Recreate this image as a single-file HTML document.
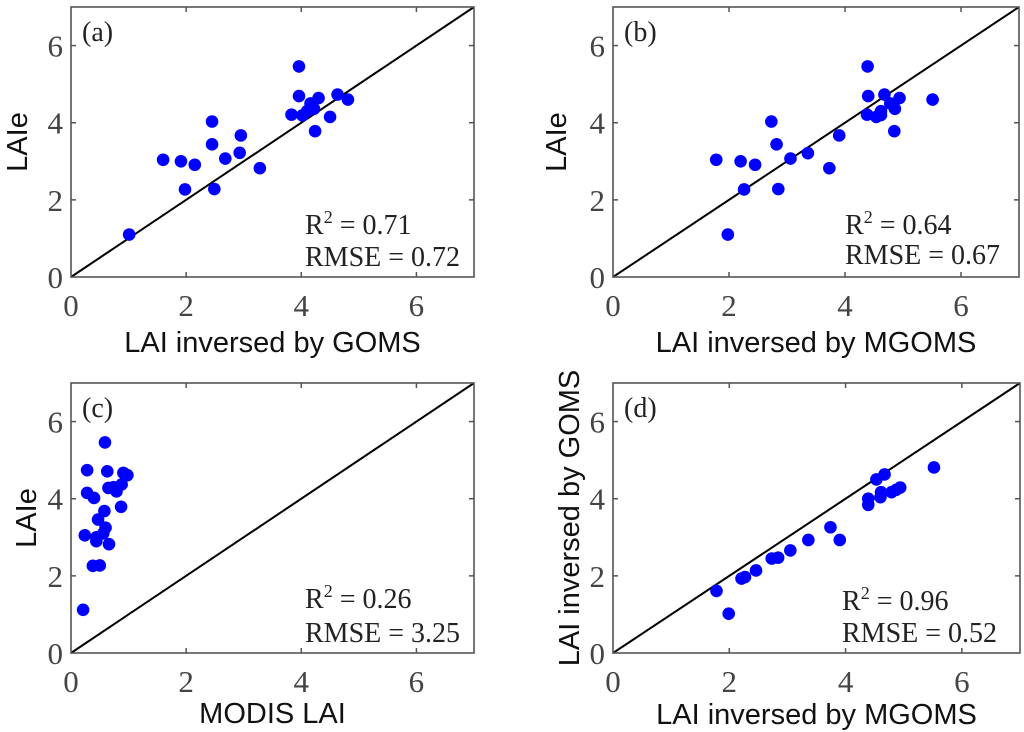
<!DOCTYPE html>
<html><head><meta charset="utf-8"><style>
body{margin:0;background:#fff;width:1024px;height:732px;overflow:hidden}
svg{display:block}
.tk{font-family:"Liberation Serif",serif;font-size:31px;fill:#444}
.al{font-family:"Liberation Sans",sans-serif;font-size:29px;fill:#111}
.an{font-family:"Liberation Serif",serif;font-size:28px;fill:#222}
</style></head><body>
<svg id="fig" width="1024" height="732" viewBox="0 0 1024 732" xmlns="http://www.w3.org/2000/svg"></svg>
<script>
const ticks=[0,2,4,6];
const tickLabels=["0","2","4","6"];
const aX=[1.01,1.60,1.91,2.15,1.98,2.45,2.45,2.49,2.68,2.95,2.93,3.28,3.96,3.96,3.83,4.02,4.16,4.30,4.22,4.24,4.50,4.63,4.81,4.10];
const aY=[1.10,3.04,3.00,2.91,2.27,4.03,3.44,2.28,3.07,3.67,3.22,2.82,5.46,4.69,4.21,4.19,4.50,4.64,4.36,3.78,4.15,4.73,4.60,4.30];
const bX=[1.78,1.98,2.20,2.45,2.26,2.73,2.82,2.85,3.06,3.36,3.90,3.73,4.39,4.40,4.38,4.54,4.62,4.62,4.68,4.78,4.86,4.94,4.85,5.51];
const bY=[3.04,1.10,3.00,2.91,2.27,4.03,3.44,2.28,3.07,3.21,3.67,2.82,5.46,4.69,4.21,4.15,4.30,4.20,4.73,4.50,4.36,4.64,3.78,4.60];
const cX=[0.21,0.28,0.28,0.40,0.24,0.44,0.38,0.50,0.47,0.44,0.58,0.60,0.56,0.66,0.59,0.63,0.65,0.79,0.88,0.87,0.91,0.98,0.74];
const cY=[1.12,4.74,4.15,4.02,3.05,3.00,2.26,2.27,3.46,2.90,3.68,3.25,3.10,2.82,5.46,4.71,4.28,4.19,4.37,3.79,4.67,4.61,4.30];
const dX=[1.78,1.99,2.21,2.27,2.46,2.73,2.84,3.05,3.36,3.74,3.90,4.39,4.39,4.53,4.67,4.60,4.61,4.79,4.87,4.94,5.52];
const dY=[1.61,1.02,1.93,1.97,2.14,2.45,2.47,2.66,2.93,3.26,2.93,4.00,3.84,4.50,4.63,4.04,4.17,4.17,4.23,4.29,4.81];
const panels=[
 {id:"a",L:71,R:474,T:7,B:277,x:aX,y:aY,xl:"LAI inversed by GOMS",yl:"LAIe",r2:"0.71",rm:"0.72",ylx:18,xly:352,annx:305,r2y:234,rmy:266},
 {id:"b",L:613,R:1019,T:7,B:277,x:bX,y:bY,xl:"LAI inversed by MGOMS",yl:"LAIe",r2:"0.64",rm:"0.67",ylx:557,xly:352,annx:845,r2y:234,rmy:264},
 {id:"c",L:71,R:474,T:383,B:653,x:cX,y:cY,xl:"MODIS LAI",yl:"LAIe",r2:"0.26",rm:"3.25",ylx:27,xly:723,annx:305,r2y:608,rmy:642},
 {id:"d",L:613,R:1020,T:383,B:653,x:dX,y:dY,xl:"LAI inversed by MGOMS",yl:"LAI inversed by GOMS",r2:"0.96",rm:"0.52",ylx:570,xly:724,annx:842,r2y:610,rmy:642}
];
const NS="http://www.w3.org/2000/svg";
const svg=document.getElementById('fig');
function mk(tag,attrs,parent,text){const e=document.createElementNS(NS,tag);for(const k in attrs)e.setAttribute(k,attrs[k]);if(text!==undefined)e.textContent=text;parent.appendChild(e);return e;}
panels.forEach(p=>{
  const sx=v=>p.L+(p.R-p.L)*v/7, sy=v=>p.B-(p.B-p.T)*v/7;
  const g=mk('g',{},svg);
  
  
  const ln=mk('line',{x1:sx(0),y1:sy(0),x2:sx(7),y2:sy(7),stroke:'#000','stroke-width':2},g);
  
  
  p.x.forEach((xv,i)=>{
    const c=mk('circle',{cx:sx(xv),cy:sy(p.y[i]),r:6.3,fill:'#0000ff'},g);
    
    
  });
  const fr=mk('rect',{x:p.L,y:p.T,width:p.R-p.L,height:p.B-p.T,fill:'none',stroke:'#555','stroke-width':1.6},g);
  
  
  ticks.forEach((t,i)=>{
    const X=sx(t),Y=sy(t);
    if(t>0){mk('line',{x1:X,y1:p.B,x2:X,y2:p.B-5,stroke:'#555','stroke-width':1.5},g);mk('line',{x1:X,y1:p.T,x2:X,y2:p.T+5,stroke:'#555','stroke-width':1.5},g);
    mk('line',{x1:p.L,y1:Y,x2:p.L+5,y2:Y,stroke:'#555','stroke-width':1.5},g);mk('line',{x1:p.R,y1:Y,x2:p.R-5,y2:Y,stroke:'#555','stroke-width':1.5},g);}
    const xt=mk('text',{x:X,y:p.B+39,'text-anchor':'middle',class:'tk'},g,tickLabels[i]);
    
    
    const yt=mk('text',{x:p.L-8,y:Y+11,'text-anchor':'end',class:'tk'},g,tickLabels[i]);
    
    
  });
  const xl=mk('text',{x:(p.L+p.R)/2,y:p.xly,'text-anchor':'middle',class:'al'},g,p.xl);
  
  
  const cy=(p.T+p.B)/2;
  const yl=mk('text',{x:p.ylx,y:cy,'text-anchor':'middle','dominant-baseline':'central',class:'al',transform:`rotate(-90 ${p.ylx} ${cy})`},g,p.yl);
  
  
  const pl=mk('text',{x:p.L+11,y:p.T+34,class:'an'},g,'('+p.id+')');
  
  
  const r2=mk('text',{x:p.annx,y:p.r2y,class:'an'},g);
  
  
  mk('tspan',{},r2,'R');
  mk('tspan',{dy:'-11','font-size':'18'},r2,'2');
  mk('tspan',{dy:'11'},r2,' = '+p.r2);
  const rm=mk('text',{x:p.annx,y:p.rmy,class:'an'},g,'RMSE = '+p.rm);
  
  
});
</script>
</body></html>
